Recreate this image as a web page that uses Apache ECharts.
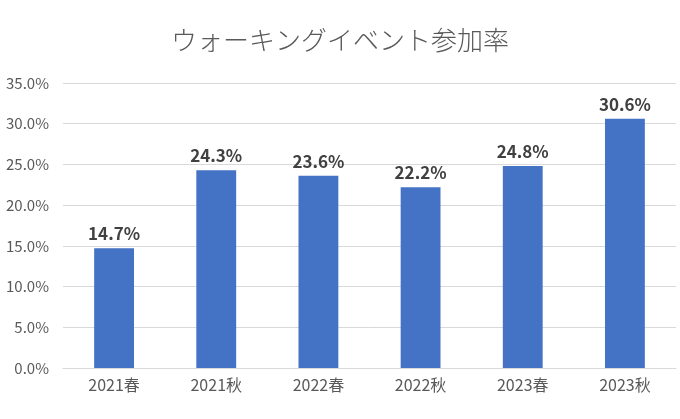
<!DOCTYPE html>
<html><head><meta charset="utf-8">
<script src="https://cdn.jsdelivr.net/npm/echarts@6/dist/echarts.min.js"></script>
<style>html,body{margin:0;padding:0;background:#fff}#c{width:680px;height:419px}</style>
</head><body><div id="c"></div>
<script>
const categories = ['2021春','2021秋','2022春','2022秋','2023春','2023秋'];
const rates = [14.7, 24.3, 23.6, 22.2, 24.8, 30.6];
const titleText = 'ウォーキングイベント参加率';
const font = '"Noto Sans CJK JP", "Noto Sans", sans-serif';
const chart = echarts.init(document.getElementById('c'));
chart.setOption({
  animation: false,
  title: {text: titleText, left: 'center', top: 22,
    textStyle: {fontFamily: font, fontSize: 26, fontWeight: 300, color: '#595959'}},
  grid: {left: 63, right: 4, top: 83, bottom: 51},
  xAxis: {type: 'category', data: categories,
    axisLine: {lineStyle: {color: '#d9d9d9'}}, axisTick: {show: false},
    axisLabel: {fontFamily: font, fontSize: 16, color: '#595959', margin: 9}},
  yAxis: {type: 'value', min: 0, max: 35, interval: 5,
    axisLine: {show: false}, axisTick: {show: false},
    splitLine: {lineStyle: {color: '#d9d9d9'}},
    axisLabel: {fontFamily: font, fontSize: 15, color: '#595959', margin: 14,
      formatter: v => v.toFixed(1) + '%'}},
  series: [{type: 'bar', data: rates, barCategoryGap: '61%',
    itemStyle: {color: '#4472C4'},
    label: {show: true, position: 'top', distance: 6, fontFamily: font, fontSize: 17,
      fontWeight: 'bold', color: '#404040', formatter: p => p.value.toFixed(1) + '%'}}]
});
</script></body></html>
